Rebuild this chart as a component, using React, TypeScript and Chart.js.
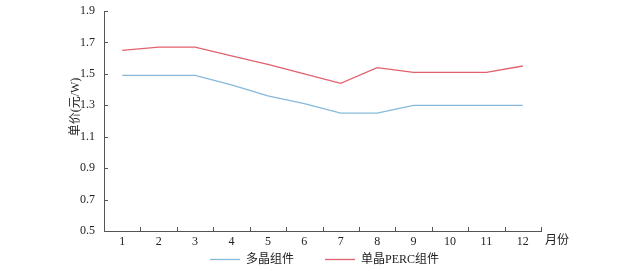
import React, { useEffect, useRef } from "react";
import { Chart, registerables } from "chart.js";

Chart.register(...registerables);

const months = ["1", "2", "3", "4", "5", "6", "7", "8", "9", "10", "11", "12"];
const multiSeries = [1.49, 1.49, 1.49, 1.43, 1.36, 1.31, 1.25, 1.25, 1.30, 1.30, 1.30, 1.30];
const percSeries = [1.65, 1.67, 1.67, 1.615, 1.56, 1.50, 1.44, 1.54, 1.51, 1.51, 1.51, 1.55];
const seriesNames = ["多晶组件", "单晶PERC组件"];
const yTitle = "单价(元/W)";
const xTitle = "月份";
const yMin = 0.5;
const yMax = 1.9;
const yStep = 0.2;

const BLUE = "#86b9dc";
const RED = "#e2616e";
const AXIS = "#555555";
const TEXT = "#222222";
const CJK_FONT = "12px 'Liberation Serif', 'Noto Sans CJK SC', serif";

const decorPlugin = {
  id: "decor",
  afterDraw(chart: any) {
    const ctx = chart.ctx;
    const area = chart.chartArea;
    const ys = chart.scales.y;
    ctx.save();
    ctx.strokeStyle = AXIS;
    ctx.lineWidth = 1;
    // inward y ticks
    ys.ticks.forEach((t: any) => {
      const y = Math.round(ys.getPixelForValue(t.value)) + 0.5;
      ctx.beginPath();
      ctx.moveTo(area.left, y);
      ctx.lineTo(area.left + 4, y);
      ctx.stroke();
    });
    // inward x ticks at category boundaries
    const n = months.length;
    const w = (area.right - area.left) / n;
    for (let i = 1; i <= n; i++) {
      const x = Math.round(area.left + i * w) + 0.5;
      ctx.beginPath();
      ctx.moveTo(x, area.bottom);
      ctx.lineTo(x, area.bottom - 4);
      ctx.stroke();
    }
    // axis titles
    ctx.fillStyle = TEXT;
    ctx.font = CJK_FONT;
    ctx.textAlign = "left";
    ctx.textBaseline = "middle";
    ctx.fillText(xTitle, area.right + 4, area.bottom + 10);
    ctx.save();
    ctx.translate(76, 107);
    ctx.rotate(-Math.PI / 2);
    ctx.textAlign = "center";
    ctx.fillText(yTitle, 0, 0);
    ctx.restore();
    // legend
    const ly = 259.5;
    const colors = [BLUE, RED];
    const starts = [210, 325];
    ctx.lineWidth = 1.3;
    seriesNames.forEach((name, i) => {
      ctx.strokeStyle = colors[i];
      ctx.beginPath();
      ctx.moveTo(starts[i], ly);
      ctx.lineTo(starts[i] + 30, ly);
      ctx.stroke();
      ctx.fillStyle = TEXT;
      ctx.textAlign = "left";
      ctx.fillText(name, starts[i] + 36, ly);
    });
    ctx.restore();
  },
};

export default function App() {
  const ref = useRef<HTMLCanvasElement | null>(null);
  useEffect(() => {
    if (!ref.current) return;
    const chart = new Chart(ref.current, {
      type: "line",
      data: {
        labels: months,
        datasets: [
          {
            label: seriesNames[0],
            data: multiSeries,
            borderColor: BLUE,
            backgroundColor: BLUE,
            borderWidth: 1.3,
            pointRadius: 0,
            tension: 0,
          },
          {
            label: seriesNames[1],
            data: percSeries,
            borderColor: RED,
            backgroundColor: RED,
            borderWidth: 1.3,
            pointRadius: 0,
            tension: 0,
          },
        ],
      },
      options: {
        animation: false,
        responsive: false,
        maintainAspectRatio: false,
        layout: { padding: { left: 0, right: 85, top: 11, bottom: 0 } },
        plugins: {
          legend: { display: false },
          tooltip: { enabled: false },
        },
        scales: {
          x: {
            offset: true,
            grid: { display: false, drawTicks: false },
            border: { display: true, color: AXIS, width: 1 },
            ticks: { color: TEXT, font: { family: "'Liberation Serif', serif", size: 12 }, padding: 4, maxRotation: 0, autoSkip: false },
            afterFit: (s: any) => {
              s.height = 40;
              s.paddingLeft = 0;
              s.paddingRight = 0;
            },
          },
          y: {
            min: yMin,
            max: yMax,
            grid: { display: false, drawTicks: false },
            border: { display: true, color: AXIS, width: 1 },
            ticks: {
              stepSize: yStep,
              color: TEXT,
              font: { family: "'Liberation Serif', serif", size: 12 },
              padding: 9,
              callback: (v: any) => Number(v).toFixed(1),
            },
            afterFit: (s: any) => {
              s.width = 104;
              s.paddingTop = 0;
              s.paddingBottom = 0;
            },
          },
        },
      },
      plugins: [decorPlugin],
    });
    return () => chart.destroy();
  }, []);
  return (
    <div style={{ position: "fixed", left: 0, top: 0, width: 626, height: 271, background: "#fff" }}>
      <canvas ref={ref} width={626} height={271} style={{ width: 626, height: 271 }} />
    </div>
  );
}
